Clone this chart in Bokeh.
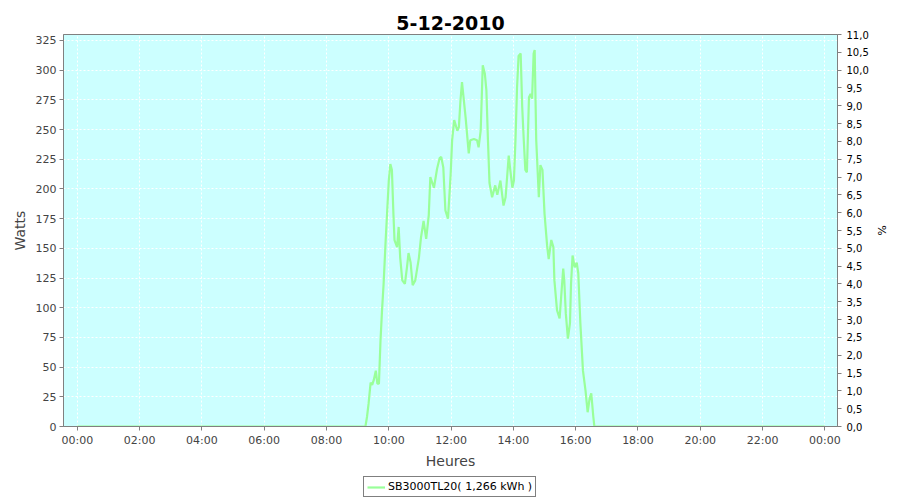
from bokeh.plotting import figure
from bokeh.layouts import column
from bokeh.models import (Range1d, LinearAxis, FixedTicker, CustomJSTickFormatter,
                          Legend, LegendItem)
from bokeh.embed import file_html
from bokeh.resources import INLINE

TITLE = "5-12-2010"
SERIES = "SB3000TL20( 1,266 kWh )"

times = ["00:00",
         "09:15", "09:18", "09:21", "09:25", "09:28", "09:31", "09:35", "09:38", "09:41", "09:44",
         "09:47", "09:50", "09:54", "09:57", "10:00",
         "10:03", "10:06", "10:09", "10:11", "10:16", "10:19", "10:22", "10:26", "10:31", "10:35",
         "10:38", "10:42", "10:46", "10:51", "10:58",
         "11:02", "11:07", "11:12", "11:17", "11:20", "11:27", "11:33", "11:38", "11:41", "11:45",
         "11:49", "11:54", "11:59",
         "12:02", "12:06", "12:12", "12:15", "12:18", "12:21", "12:24", "12:28", "12:34", "12:37",
         "12:44", "12:50", "12:53", "12:57",
         "13:01", "13:05", "13:08", "13:11", "13:14", "13:19", "13:25", "13:29", "13:35", "13:41",
         "13:45", "13:51", "13:54", "13:58",
         "14:01", "14:04", "14:07", "14:10", "14:14", "14:17", "14:20", "14:23", "14:26", "14:30",
         "14:33", "14:36", "14:39", "14:41", "14:44", "14:49", "14:52", "14:56",
         "15:00", "15:05", "15:08", "15:13", "15:17", "15:19", "15:24", "15:29", "15:32", "15:36",
         "15:38", "15:41", "15:45", "15:49", "15:51", "15:54", "15:58",
         "16:02", "16:05", "16:09", "16:14", "16:19", "16:23", "16:27", "16:30", "16:34", "16:36",
         "24:00"]

watts = [0,
         0, 8, 19, 37, 35, 39, 47, 36, 36, 72,
         98, 120, 157, 182, 207,
         221, 216, 178, 157, 151, 168, 142, 123, 120, 134,
         146, 138, 119, 123, 142,
         159, 173, 158, 178, 210, 201, 217, 226, 227, 218,
         182, 175, 211,
         241, 258, 249, 252, 274, 290, 277, 260, 230, 241,
         242, 241, 235, 249,
         304, 297, 283, 241, 205, 193, 203, 195, 207, 186,
         193, 228, 216, 201,
         207, 241, 285, 312, 314, 269, 241, 216, 214, 277,
         280, 276, 314, 317, 241, 193, 220, 216,
         179, 152, 141, 157, 151, 123, 98, 91, 109, 133,
         123, 95, 74, 87, 120, 144, 134,
         138, 129, 87, 47, 30, 12, 24, 28, 8, 0,
         0]

x_tick_hours = [0, 2, 4, 6, 8, 10, 12, 14, 16, 18, 20, 22, 24]
watt_ticks = [0, 25, 50, 75, 100, 125, 150, 175, 200, 225, 250, 275, 300, 325]
pct_ticks = [0.0, 0.5, 1.0, 1.5, 2.0, 2.5, 3.0, 3.5, 4.0, 4.5, 5.0, 5.5, 6.0, 6.5,
             7.0, 7.5, 8.0, 8.5, 9.0, 9.5, 10.0, 10.5, 11.0]


def to_hours(s):
    h, m = s.split(":")
    return int(h) + int(m) / 60.0


hours = [to_hours(t) for t in times]

FONT = "DejaVu Sans"
GRAY = "#808080"
LINE_COLOR = "#99ff99"

p = figure(width=900, height=474, output_backend="svg", toolbar_location=None,
           x_range=Range1d(-0.443, 24.405), y_range=Range1d(0, 330),
           min_border_left=63, min_border_right=63, min_border_top=34, min_border_bottom=48,
           background_fill_color="#ccffff", border_fill_color="white")

p.title.text = TITLE
p.title.align = "center"
p.title.text_font = FONT
p.title.text_font_size = "19px"
p.title.text_font_style = "bold"
p.title.text_color = "black"
p.title.standoff = 9

p.outline_line_color = GRAY
p.outline_line_width = 1

p.xaxis.ticker = FixedTicker(ticks=x_tick_hours)
p.xaxis.formatter = CustomJSTickFormatter(
    code="const h = Math.round(tick) % 24; return (h < 10 ? '0' : '') + h + ':00';")
p.xaxis.axis_label = "Heures"

p.yaxis.ticker = FixedTicker(ticks=watt_ticks)
p.yaxis.axis_label = "Watts"

p.extra_y_ranges = {"pct": Range1d(0, 11)}
rax = LinearAxis(y_range_name="pct", ticker=FixedTicker(ticks=pct_ticks),
                 formatter=CustomJSTickFormatter(code="return tick.toFixed(1).replace('.', ',');"),
                 axis_label="%")
p.add_layout(rax, "right")

for ax in [p.xaxis[0], p.yaxis[0]]:
    ax.axis_line_color = GRAY
    ax.major_tick_line_color = GRAY
    ax.major_tick_out = 4
    ax.major_tick_in = 0
    ax.minor_tick_line_color = None
    ax.major_label_text_font = FONT
    ax.major_label_text_font_size = "11px"
    ax.major_label_text_color = "#444444"
    ax.major_label_standoff = 3
    ax.axis_label_text_font = FONT
    ax.axis_label_text_font_size = "14px"
    ax.axis_label_text_font_style = "normal"
    ax.axis_label_text_color = "#444444"
    ax.axis_label_standoff = 3

p.yaxis[0].axis_label_standoff = 5

rax.axis_line_color = GRAY
rax.major_tick_line_color = GRAY
rax.major_tick_out = 4
rax.major_tick_in = 0
rax.minor_tick_line_color = None
rax.major_label_text_font = FONT
rax.major_label_text_font_size = "10px"
rax.major_label_text_color = "black"
rax.major_label_standoff = 5
rax.axis_label_text_font = FONT
rax.axis_label_text_font_size = "11px"
rax.axis_label_text_font_style = "normal"
rax.axis_label_text_color = "black"
rax.axis_label_standoff = 3

for g in [p.xgrid[0], p.ygrid[0]]:
    g.grid_line_color = "white"
    g.grid_line_dash = "2 2"
    g.grid_line_width = 1

r = p.line(hours, watts, line_color=LINE_COLOR, line_width=2.2)

# legend strip under the chart (its frame is aligned with the chart's frame)
lg = figure(width=900, height=26, output_backend="svg", toolbar_location=None,
            x_range=Range1d(0, 1), y_range=Range1d(0, 1),
            x_axis_type=None, y_axis_type=None,
            min_border_left=63, min_border_right=63, min_border_top=0, min_border_bottom=0,
            outline_line_color=None, background_fill_color="white", border_fill_color="white")
lg.xgrid.visible = False
lg.ygrid.visible = False
lr = lg.line(x=[-5, -4], y=[-5, -5], line_color=LINE_COLOR, line_width=2.2)

legend = Legend(items=[LegendItem(label=SERIES, renderers=[lr])],
                location=(300, 3), orientation="horizontal",
                border_line_color="black", border_line_width=1,
                background_fill_color="white", background_fill_alpha=1,
                label_text_font=FONT, label_text_font_size="11px", label_text_color="black",
                glyph_width=18, glyph_height=10, label_height=10,
                label_standoff=3, padding=3, margin=0, spacing=0)
lg.add_layout(legend, "center")

layout = column(p, lg, spacing=0)

open("out.html", "w").write(file_html(layout, INLINE))
